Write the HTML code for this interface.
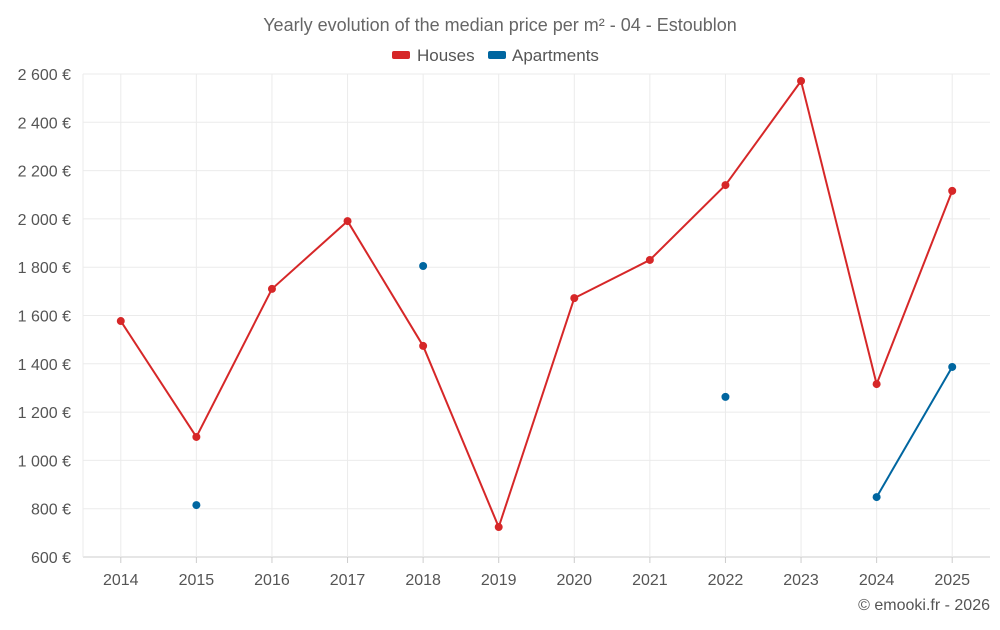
<!DOCTYPE html>
<html><head><meta charset="utf-8"><style>
body{margin:0;background:#fff;font-family:"Liberation Sans",sans-serif;}
svg text{font-family:"Liberation Sans",sans-serif;}
</style></head><body>
<svg id="chart" width="1000" height="625" xmlns="http://www.w3.org/2000/svg">
<text x="500" y="31" text-anchor="middle" font-size="18" fill="#666">Yearly evolution of the median price per m² - 04 - Estoublon</text>
<g>
<rect x="392" y="51" width="18" height="8" rx="2" fill="#d62728"/>
<text x="417" y="61" font-size="17" fill="#555">Houses</text>
<rect x="488" y="51" width="18" height="8" rx="2" fill="#0066a0"/>
<text x="512" y="61" font-size="17" fill="#555">Apartments</text>
</g>
<g id="grid"></g><g id="axes"></g><g id="series"></g>
<text x="990" y="610" text-anchor="end" font-size="16" fill="#555">© emooki.fr - 2026</text>
</svg>
<script>
const categories=[2014,2015,2016,2017,2018,2019,2020,2021,2022,2023,2024,2025];
const houses=[1577,1097,1710,1991,1474,724,1672,1830,2140,2571,1316,2116];
const apartments=[null,815,null,null,1805,null,null,null,1263,null,848,1387];
const yTicks=[600,800,1000,1200,1400,1600,1800,2000,2200,2400,2600];
const NS="http://www.w3.org/2000/svg";
const L=83,R=990,T=74,B=557,ymin=600,ymax=2600;
const step=(R-L)/categories.length;
const xs=i=>L+step*(i+0.5);
const ys=v=>B-(v-ymin)/(ymax-ymin)*(B-T);
function mk(tag,attrs,parent){const e=document.createElementNS(NS,tag);for(const k in attrs)e.setAttribute(k,attrs[k]);parent.appendChild(e);return e;}
const grid=document.getElementById('grid'),axes=document.getElementById('axes'),ser=document.getElementById('series');
yTicks.forEach(v=>{
 const l=mk('line',{x1:L,x2:R,y1:ys(v),y2:ys(v),stroke:v===ymin?'#ccc':'#ebebeb'},grid);
 
 
 const t=mk('text',{x:L-12,y:ys(v)+6,'text-anchor':'end','font-size':16,fill:'#555'},axes);
 t.textContent=v.toLocaleString('fr-FR').replace(/\u202f|\u00a0/g,' ')+' €';
 
 
});
const v0=mk('line',{x1:L,x2:L,y1:T,y2:B,stroke:'#ebebeb'},grid);


categories.forEach((c,i)=>{
 const l=mk('line',{x1:xs(i),x2:xs(i),y1:T,y2:B,stroke:'#ebebeb'},grid);
 
 
 const k=mk('line',{x1:xs(i),x2:xs(i),y1:B,y2:B+6,stroke:'#ccc'},axes);
 
 
 const t=mk('text',{x:xs(i),y:B+28,'text-anchor':'middle','font-size':16,fill:'#555'},axes);
 t.textContent=c;
 
 
});
function draw(data,color,name){
 for(let i=0;i<data.length-1;i++){
  if(data[i]!=null&&data[i+1]!=null){
   const l=mk('line',{x1:xs(i),y1:ys(data[i]),x2:xs(i+1),y2:ys(data[i+1]),stroke:color,'stroke-width':2},ser);
   
   
  }
 }
 data.forEach((v,i)=>{if(v==null)return;
  const c=mk('circle',{cx:xs(i),cy:ys(v),r:4,fill:color},ser);
  
  
 });
}
draw(houses,'#d62728','houses');
draw(apartments,'#0066a0','apartments');
</script>
</body></html>
